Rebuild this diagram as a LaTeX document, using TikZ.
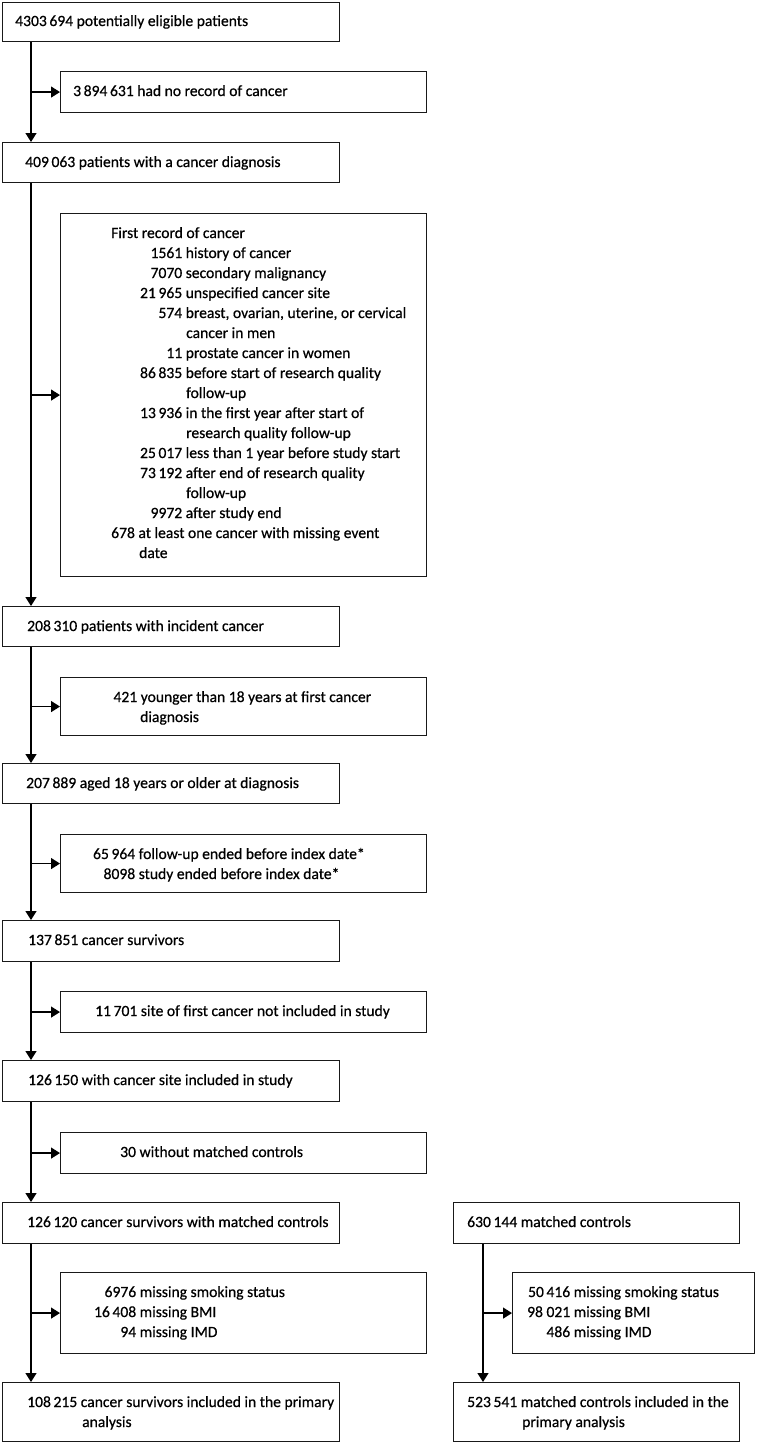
\documentclass[tikz,border=0pt]{standalone}
\usepackage{fontspec}
\setmainfont{Carlito}[FakeBold=0.6]
\usetikzlibrary{arrows.meta}
\tikzset{
  box/.style={draw=black!90, line width=1.1pt, anchor=north west, inner sep=0pt, fill=white},
  mainbox/.style={box, minimum width=337pt},
  sidebox/.style={box, minimum width=366pt},
  rbox/.style={box, minimum width=286pt},
  txt/.style={anchor=base west, inner sep=0pt, font=\fontsize{15.6}{20}\selectfont},
  arr/.style={line width=1.3pt, -{Triangle[length=9pt,width=11pt]}},
}
\newcommand\nm[2]{\makebox[#1][r]{#2}}
\newenvironment{lines}{\begin{tabular}[t]{@{}l@{}}}{\end{tabular}}
\begin{document}
\begin{tikzpicture}[x=1pt,y=-1pt]
\useasboundingbox (0,0) rectangle (756,1443);
% left column boxes
\node[mainbox, minimum height=39pt] (b1) at (2,2) {};
\node[sidebox, minimum height=41pt] (b2) at (60,71) {};
\node[mainbox, minimum height=40pt] (b3) at (2,142) {};
\node[sidebox, minimum height=363pt] (b4) at (60,213) {};
\node[mainbox, minimum height=40pt] (b5) at (2,606) {};
\node[sidebox, minimum height=58pt] (b6) at (60,677) {};
\node[mainbox, minimum height=40pt] (b7) at (2,763) {};
\node[sidebox, minimum height=58pt] (b8) at (60,834) {};
\node[mainbox, minimum height=41pt] (b9) at (2,920) {};
\node[sidebox, minimum height=41pt] (b10) at (60,991) {};
\node[mainbox, minimum height=41pt] (b11) at (2,1060) {};
\node[sidebox, minimum height=41pt] (b12) at (60,1132) {};
\node[mainbox, minimum height=41pt] (b13) at (2,1202) {};
\node[sidebox, minimum height=81pt] (b14) at (60,1272) {};
\node[mainbox, minimum height=59pt] (b15) at (2,1382) {};
% right column boxes
\node[rbox, minimum height=41pt] (r1) at (453,1202) {};
\node[box, minimum width=242pt, minimum height=81pt] (r2) at (512,1272) {};
\node[rbox, minimum height=59pt] (r3) at (453,1382) {};

% texts
\node[txt] (t1) at (15,26) {4303\,694 potentially eligible patients};
\node[txt] (t2) at (73,96) {3\,894\,631 had no record of cancer};
\node[txt] (t3) at (25,167) {409\,063 patients with a cancer diagnosis};
\node[txt] (t4) at (111,238) {\begin{lines}First record of cancer\\
\nm{71pt}{1561} history of cancer\\
\nm{71pt}{7070} secondary malignancy\\
\nm{71pt}{21\,965} unspecified cancer site\\
\nm{71pt}{574} breast, ovarian, uterine, or cervical\\
\hspace*{75pt}cancer in men\\
\nm{71pt}{11} prostate cancer in women\\
\nm{71pt}{86\,835} before start of research quality\\
\hspace*{75pt}follow-up\\
\nm{71pt}{13\,936} in the first year after start of\\
\hspace*{75pt}research quality follow-up\\
\nm{71pt}{25\,017} less than 1 year before study start\\
\nm{71pt}{73\,192} after end of research quality\\
\hspace*{75pt}follow-up\\
\nm{71pt}{9972} after study end\\
678 at least one cancer with missing event\\
\hspace*{28pt}date\end{lines}};
\node[txt] (t5) at (27,631) {208\,310 patients with incident cancer};
\node[txt] (t6) at (85,702) {\begin{lines}\nm{52pt}{421} younger than 18 years at first cancer\\
\hspace*{55pt}diagnosis\end{lines}};
\node[txt] (t7) at (26,788) {207\,889 aged 18 years or older at diagnosis};
\node[txt] (t8) at (85,859) {\begin{lines}\nm{50pt}{65\,964} follow-up ended before index date*\\
\nm{50pt}{8098} study ended before index date*\end{lines}};
\node[txt] (t9) at (28,945) {137\,851 cancer survivors};
\node[txt] (t10) at (95,1016) {11\,701 site of first cancer not included in study};
\node[txt] (t11) at (28,1085) {126\,150 with cancer site included in study};
\node[txt] (t12) at (120,1157) {30 without matched controls};
\node[txt] (t13) at (27,1227) {126\,120 cancer survivors with matched controls};
\node[txt] (t14) at (85,1297) {\begin{lines}\nm{51pt}{6976} missing smoking status\\
\nm{51pt}{16\,408} missing BMI\\
\nm{51pt}{94} missing IMD\end{lines}};
\node[txt] (t15) at (27,1407) {\begin{lines}108\,215 cancer survivors included in the primary\\
\hspace*{55pt}analysis\end{lines}};
\node[txt] (u1) at (467,1227) {630\,144 matched controls};
\node[txt] (u2) at (520,1297) {\begin{lines}\nm{50pt}{50\,416} missing smoking status\\
\nm{50pt}{98 021} missing BMI\\
\nm{50pt}{486} missing IMD\end{lines}};
\node[txt] (u3) at (467,1407) {\begin{lines}523\,541 matched controls included in the\\
\hspace*{55pt}primary analysis\end{lines}};

% trunk arrows (left)
\foreach \a/\b/\s in {b1/b3/b2, b3/b5/b4, b5/b7/b6, b7/b9/b8, b9/b11/b10, b11/b13/b12, b13/b15/b14}{
  \draw[arr] ([xshift=29pt]\a.south west) -- ([xshift=29pt]\b.north west);
  \draw[arr] ([xshift=29pt]\a.south west |- \s.west) -- (\s.west);
}
% right trunk
\draw[arr] ([xshift=30pt]r1.south west) -- ([xshift=30pt]r3.north west);
\draw[arr] ([xshift=30pt]r1.south west |- r2.west) -- (r2.west);
\end{tikzpicture}
\end{document}
